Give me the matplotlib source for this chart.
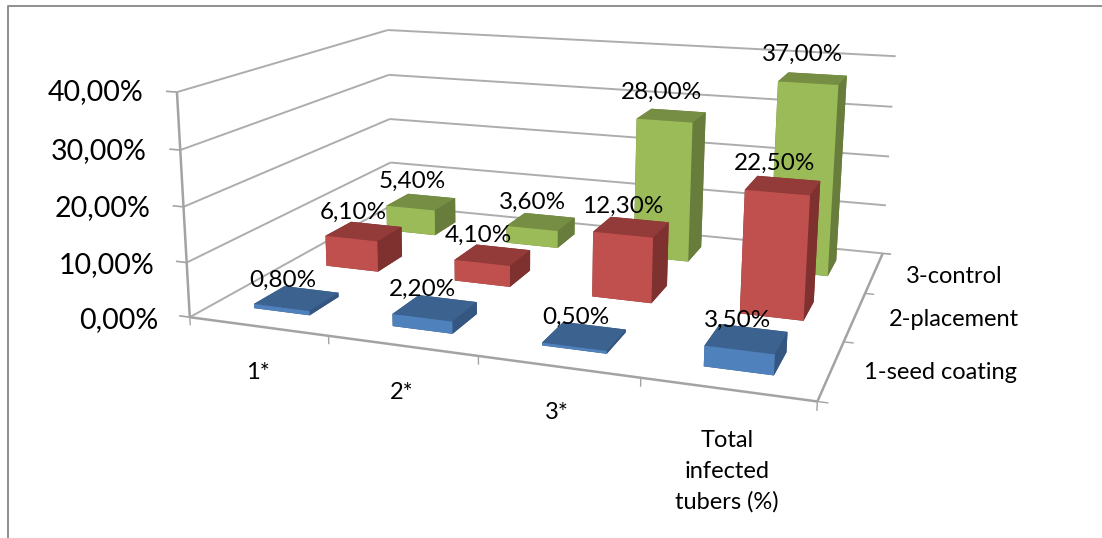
import numpy as np
import matplotlib
matplotlib.use("Agg")
import matplotlib.pyplot as plt
from matplotlib.lines import Line2D
from mpl_toolkits.mplot3d.art3d import Line3DCollection

categories = ["1*", "2*", "3*", "Total\ninfected\ntubers (%)"]
series = ["1-seed coating", "2-placement", "3-control"]
seed_coating = [0.8, 2.2, 0.5, 3.5]
placement = [6.1, 4.1, 12.3, 22.5]
control = [5.4, 3.6, 28.0, 37.0]
value_ticks = [0, 10, 20, 30, 40]

W, H = 1102, 538
FONT = "Lato"
fig = plt.figure(figsize=(W / 100, H / 100), dpi=100, facecolor="white")
ax = fig.add_axes([0, (H - W) / 2 / H, 1, W / H], projection="3d")
ax.set_axis_off()
ax.computed_zorder = False

# Camera: perspective matrix fitted to where the chart box sits in the picture
box_world = np.array([
    (0, 0, 0), (1, 0, 0), (2, 0, 0), (3, 0, 0), (4, 0, 0), (4, 1, 0), (4, 2, 0), (4, 3, 0), (0, 3, 0),
    (0, 0, 10), (0, 0, 20), (0, 0, 30), (0, 0, 40),
    (0, 3, 10), (0, 3, 20), (0, 3, 30), (0, 3, 40),
    (4, 3, 10), (4, 3, 20), (4, 3, 30), (4, 3, 40)], float)
box_pixel = np.array([
    (190, 318), (327, 336), (477, 358), (638, 378), (817, 400), (847, 339), (867, 292), (881, 254), (392, 205),
    (188, 263), (185, 208), (181, 151), (176, 90),
    (390, 163), (390, 118), (388, 75), (388, 29),
    (886, 206), (889, 157), (893, 108), (895, 57)], float)


def fit_camera(world, pixel):
    rows = []
    for (x, y, z), (u, v) in zip(world, pixel):
        p = [x, y, z / 10, 1]
        rows.append(p + [0, 0, 0, 0] + [-u / 1000 * c for c in p])
        rows.append([0, 0, 0, 0] + p + [-v / 1000 * c for c in p])
    sol = np.linalg.svd(np.array(rows))[2][-1].reshape(3, 4)
    sol = sol @ np.diag([1, 1, 0.1, 1])
    if sol[2] @ np.array([2, 1.5, 20, 1]) < 0:
        sol = -sol
    sol[:2] *= 1000
    return sol


P = fit_camera(box_world, box_pixel)
to_data = ax.transData.inverted()
o, ex, ey = to_data.transform([(0, H), (1, H), (0, H - 1)])
A = np.array([[ex[0] - o[0], ey[0] - o[0], o[0]],
              [ex[1] - o[1], ey[1] - o[1], o[1]],
              [0, 0, 1]])
Q = A @ P
M = np.array([Q[0], Q[1], [-0.3, 1.0, -0.01, 2.0], Q[2]])
ax.get_proj = lambda: M

# Box lines
GRID = "#ADADAD"
AXIS = "#A3A3A3"


def seg(a, b, color=GRID, lw=1.4):
    lc = Line3DCollection([[a, b]], colors=color, linewidths=lw, capstyle="butt")
    lc.set_zorder(1)
    ax.add_collection3d(lc, autolim=False)


for t in value_ticks:
    seg((0, 0, t), (0, 3, t))
    seg((0, 3, t), (4, 3, t))
    seg((-0.08, 0, t), (0, 0, t), AXIS, 1.2)
seg((0, 0, 0), (0, 0, 40), AXIS, 1.8)
seg((0, 0, 0), (4, 0, 0), AXIS, 1.8)
seg((4, 0, 0), (4, 3, 0), AXIS, 1.8)
seg((4, 3, 0), (4.06, 3, 0), AXIS, 1.2)
for i in range(5):
    seg((i, 0, 0), (i, 0, -1.5), AXIS, 1.0)
for j in range(1, 3):
    seg((4, j, 0), (4.06, j, 0), AXIS, 1.0)
seg((4, 0, 0), (4.06, 0, 0), AXIS, 1.0)

# Bars: faces are bottom, top, front, back, left, right
BAR_DX, BAR_DY = 0.41, 0.40
palette = [
    {"front": "#4F81BD", "top": "#3C6290", "side": "#345680"},
    {"front": "#C0504D", "top": "#923B39", "side": "#7F312F"},
    {"front": "#9BBB59", "top": "#768E43", "side": "#687D3B"},
]
rows = [seed_coating, placement, control]
for j in (2, 1, 0):
    c = palette[j]
    faces = [c["side"], c["top"], c["front"], c["side"], c["side"], c["side"]]
    for i, v in enumerate(rows[j]):
        poly = ax.bar3d(i + 0.5 - BAR_DX / 2, j + 0.5 - BAR_DY / 2, 0, BAR_DX, BAR_DY, v,
                        color=faces, shade=False, linewidth=0)
        poly.set_zorder(10 + (2 - j) * 10 + i)


def px_text(x, y, s, size, ha="center", **kw):
    fig.text(x / W, 1 - (y + 1.5) / H, s, fontsize=size, family=FONT, ha=ha, va="center",
             color="black", zorder=50, **kw)


def pct(v):
    return f"{v:.2f}%".replace(".", ",")


# Data labels
label_xy = [
    [(283, 279), (422, 288), (576, 316), (738, 319)],
    [(353, 211), (478, 234), (623, 205), (775, 162)],
    [(412, 180), (533, 201), (662, 91), (803, 53)],
]
for j, row in enumerate(rows):
    for i, v in enumerate(row):
        px_text(*label_xy[j][i], pct(v), 17.5)

# Value axis labels
value_xy = [(158, 319), (154, 264), (151, 207), (147, 150), (143, 91)]
for t, (x, y) in zip(value_ticks, value_xy):
    px_text(x, y, pct(t), 20.5, ha="right")

# Category labels
cat_xy = [(258, 371), (402, 391), (557, 411), (727, 470)]
for s, (x, y) in zip(categories, cat_xy):
    px_text(x, y, s, 17, multialignment="center", linespacing=1.55)

# Series labels
series_xy = [(940, 371), (954, 318), (954, 275)]
for s, (x, y) in zip(series, series_xy):
    px_text(x, y, s, 17)

# Chart border (left and top only, as cropped in the picture)
fig.add_artist(Line2D([7.5 / W, 7.5 / W, 1], [0, 1 - 6 / H, 1 - 6 / H],
                      color="#8E8E8E", lw=1.4, transform=fig.transFigure))

fig.savefig("out.png", dpi=100, facecolor="white")
